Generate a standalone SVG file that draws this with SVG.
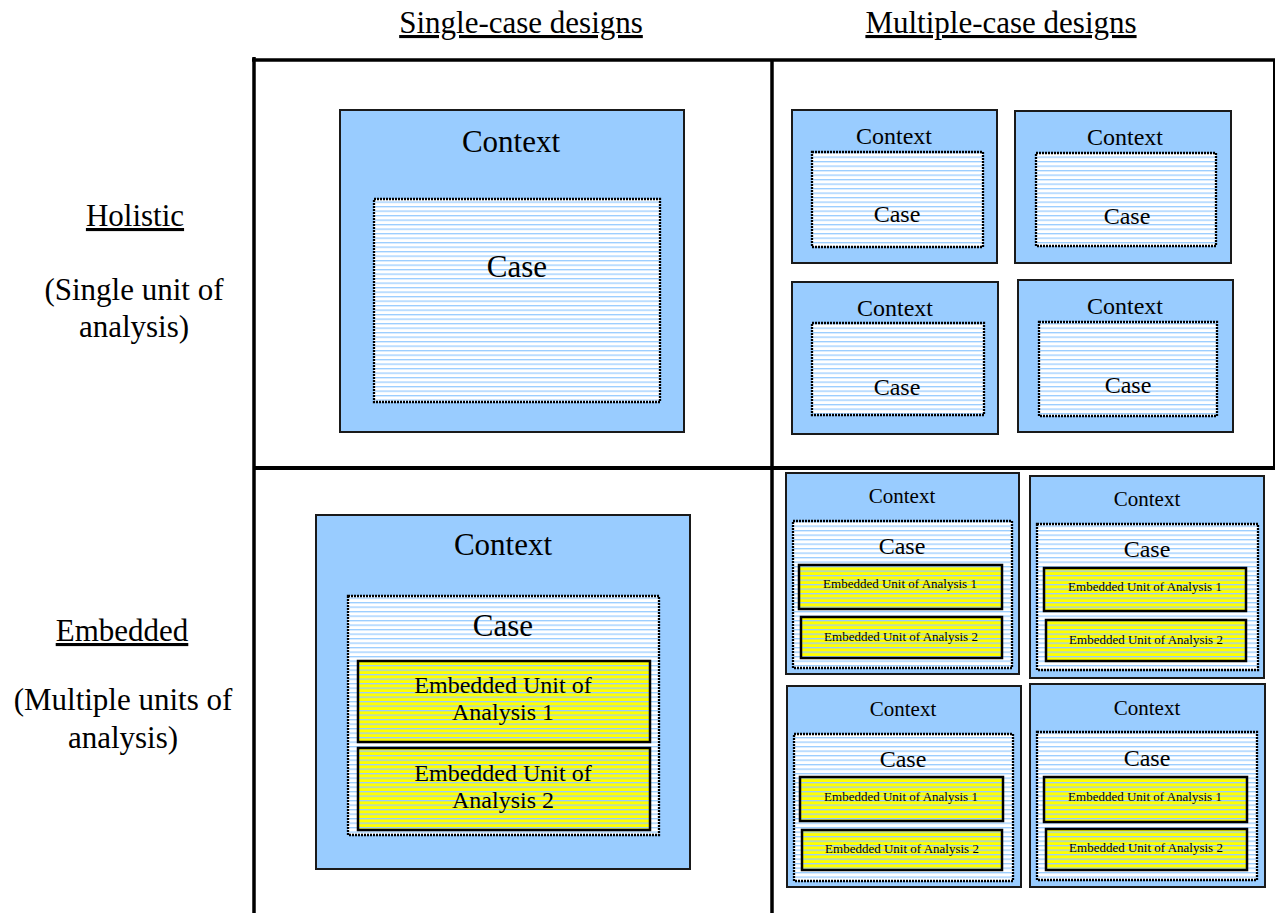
<svg xmlns="http://www.w3.org/2000/svg" width="1275" height="913" viewBox="0 0 1275 913" font-family="'Liberation Serif', 'DejaVu Serif', serif">
  <style>
    text { font-family: 'Liberation Serif', 'DejaVu Serif', serif; fill: #000; text-anchor: middle; }
    .hdr { font-size: 31px; text-decoration: underline; }
    .lbl { font-size: 31px; }
    .grid { stroke: #000; stroke-width: 3.5; fill: none; }
    .ctx { fill: #99ccff; stroke: #1a1a1a; stroke-width: 2; }
    .case { fill: url(#stripes); stroke: #000; stroke-width: 2.3; stroke-dasharray: 2 1; }
    .unit { fill: url(#stripesY); stroke: #000; stroke-width: 2.5; }
    .t31 { font-size: 31px; }
    .t24 { font-size: 24px; }
    .t21 { font-size: 21px; }
    .t13 { font-size: 13px; }
  </style>
  <defs>
    <pattern id="stripes" patternUnits="userSpaceOnUse" width="10" height="4.5" y="3.5">
      <rect width="10" height="4.5" fill="#ffffff"/>
      <rect width="10" height="1.3" fill="#99ccff"/>
    </pattern>
    <pattern id="stripesY" patternUnits="userSpaceOnUse" width="10" height="4.5" y="3.5">
      <rect width="10" height="4.5" fill="#ffff00"/>
      <rect width="10" height="1.3" fill="#99ccff"/>
    </pattern>
  </defs>

  <rect width="1275" height="913" fill="#ffffff"/>

  <!-- column and row headings -->
  <g id="headings">
    <text class="hdr" x="521" y="33">Single-case designs</text>
    <text class="hdr" x="1001" y="33">Multiple-case designs</text>
    <text class="hdr" x="135" y="226">Holistic</text>
    <text class="lbl" x="134" y="300">(Single unit of</text>
    <text class="lbl" x="134" y="337">analysis)</text>
    <text class="hdr" x="122" y="641">Embedded</text>
    <text class="lbl" x="123" y="710">(Multiple units of</text>
    <text class="lbl" x="123" y="748">analysis)</text>
  </g>

  <!-- 2x2 matrix rules -->
  <g id="connectors">
    <line class="grid" x1="252" y1="60" x2="1275" y2="60"/>
    <line class="grid" x1="254" y1="57" x2="254" y2="913"/>
    <line class="grid" x1="772" y1="60" x2="772" y2="913"/>
    <line class="grid" x1="254" y1="468" x2="1275" y2="468" style="stroke-width:4"/>
    <line x1="1274" y1="60" x2="1274" y2="468" stroke="#000" stroke-width="2"/>
  </g>

  <!-- holistic, single case -->
  <g id="hs-context">
    <rect class="ctx" x="340" y="110" width="344" height="322"/>
    <text class="t31" x="511" y="152">Context</text>
  </g>
  <g id="hs-case">
    <rect class="case" x="374" y="199" width="286" height="203"/>
    <text class="t31" x="517" y="277">Case</text>
  </g>

  <!-- holistic, multiple cases -->
  <g id="hm-1">
    <rect class="ctx" x="792" y="110" width="205" height="153"/>
    <text class="t24" x="894" y="144">Context</text>
    <rect class="case" x="812" y="152" width="171" height="95"/>
    <text class="t24" x="897" y="222">Case</text>
  </g>
  <g id="hm-2">
    <rect class="ctx" x="1015" y="111" width="216" height="152"/>
    <text class="t24" x="1125" y="145">Context</text>
    <rect class="case" x="1036" y="153" width="180" height="93"/>
    <text class="t24" x="1127" y="224">Case</text>
  </g>
  <g id="hm-3">
    <rect class="ctx" x="792" y="282" width="206" height="152"/>
    <text class="t24" x="895" y="316">Context</text>
    <rect class="case" x="812" y="323" width="172" height="92"/>
    <text class="t24" x="897" y="395">Case</text>
  </g>
  <g id="hm-4">
    <rect class="ctx" x="1018" y="280" width="215" height="152"/>
    <text class="t24" x="1125" y="314">Context</text>
    <rect class="case" x="1039" y="322" width="178" height="94"/>
    <text class="t24" x="1128" y="393">Case</text>
  </g>

  <!-- embedded, single case -->
  <g id="es-context">
    <rect class="ctx" x="316" y="515" width="374" height="354"/>
    <text class="t31" x="503" y="555">Context</text>
  </g>
  <g id="es-case">
    <rect class="case" x="348" y="596" width="311" height="239"/>
    <text class="t31" x="503" y="636">Case</text>
  </g>
  <g id="es-unit1">
    <rect class="unit" x="358" y="661" width="292" height="81"/>
    <text class="t24" x="503" y="693">Embedded Unit of</text>
    <text class="t24" x="503" y="720">Analysis 1</text>
  </g>
  <g id="es-unit2">
    <rect class="unit" x="358" y="748" width="292" height="82"/>
    <text class="t24" x="503" y="781">Embedded Unit of</text>
    <text class="t24" x="503" y="808">Analysis 2</text>
  </g>

  <!-- embedded, multiple cases -->
  <g id="em-1">
    <rect class="ctx" x="786" y="473" width="233" height="201"/>
    <text class="t21" x="902" y="503">Context</text>
    <rect class="case" x="793" y="521" width="219" height="147"/>
    <text class="t24" x="902" y="554">Case</text>
    <rect class="unit" x="799" y="565" width="203" height="44"/>
    <text class="t13" x="900" y="588">Embedded Unit of Analysis 1</text>
    <rect class="unit" x="801" y="617" width="201" height="41"/>
    <text class="t13" x="901" y="641">Embedded Unit of Analysis 2</text>
  </g>
  <g id="em-2">
    <rect class="ctx" x="1030" y="476" width="234" height="202"/>
    <text class="t21" x="1147" y="506">Context</text>
    <rect class="case" x="1037" y="524" width="221" height="146"/>
    <text class="t24" x="1147" y="557">Case</text>
    <rect class="unit" x="1044" y="568" width="202" height="43"/>
    <text class="t13" x="1145" y="591">Embedded Unit of Analysis 1</text>
    <rect class="unit" x="1046" y="620" width="200" height="41"/>
    <text class="t13" x="1146" y="644">Embedded Unit of Analysis 2</text>
  </g>
  <g id="em-3">
    <rect class="ctx" x="787" y="686" width="234" height="201"/>
    <text class="t21" x="903" y="716">Context</text>
    <rect class="case" x="794" y="734" width="219" height="147"/>
    <text class="t24" x="903" y="767">Case</text>
    <rect class="unit" x="800" y="777" width="203" height="44"/>
    <text class="t13" x="901" y="801">Embedded Unit of Analysis 1</text>
    <rect class="unit" x="802" y="830" width="200" height="40"/>
    <text class="t13" x="902" y="853">Embedded Unit of Analysis 2</text>
  </g>
  <g id="em-4">
    <rect class="ctx" x="1030" y="684" width="235" height="203"/>
    <text class="t21" x="1147" y="715">Context</text>
    <rect class="case" x="1037" y="732" width="220" height="148"/>
    <text class="t24" x="1147" y="766">Case</text>
    <rect class="unit" x="1044" y="777" width="203" height="45"/>
    <text class="t13" x="1145" y="801">Embedded Unit of Analysis 1</text>
    <rect class="unit" x="1046" y="829" width="201" height="41"/>
    <text class="t13" x="1146" y="852">Embedded Unit of Analysis 2</text>
  </g>
</svg>
